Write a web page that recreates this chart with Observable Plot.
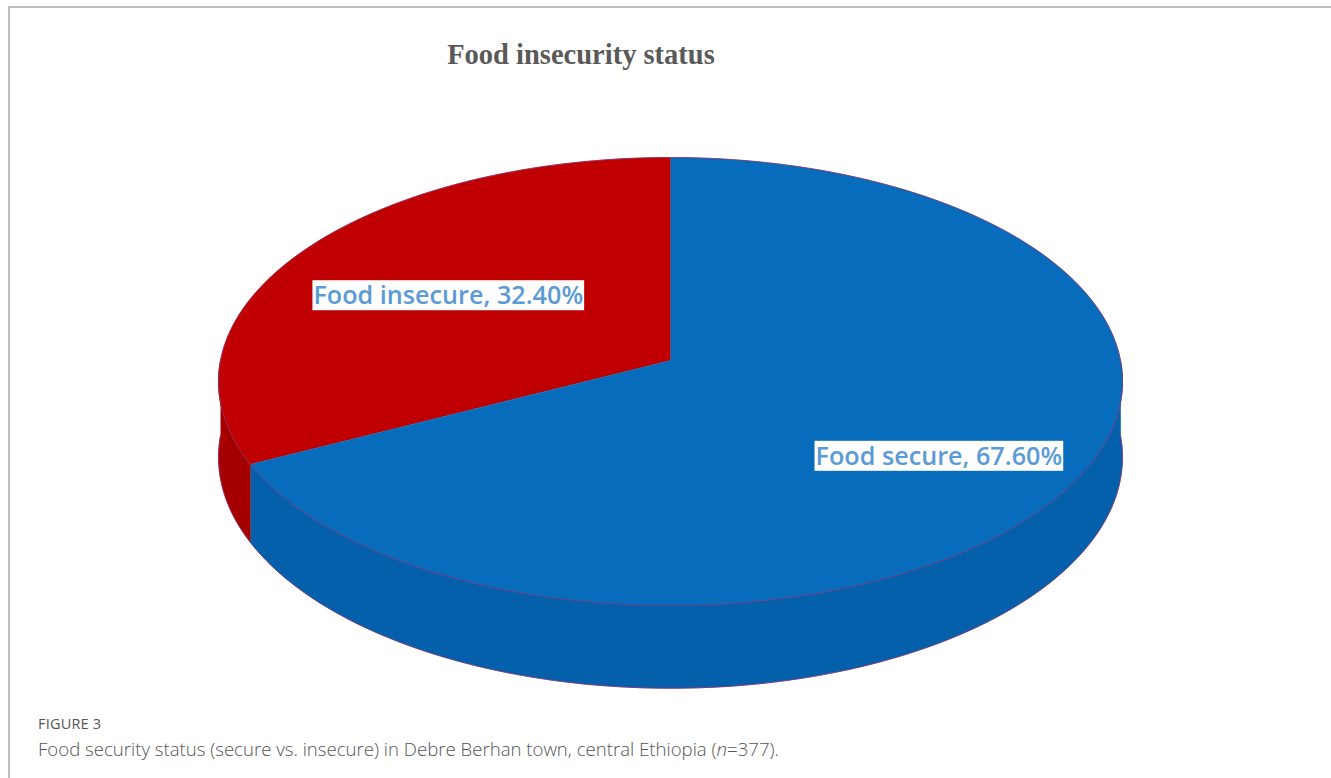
<!DOCTYPE html>
<html><head><meta charset="utf-8">
<script src="https://cdn.jsdelivr.net/npm/d3@7"></script>
<script src="https://cdn.jsdelivr.net/npm/@observablehq/plot@0.6"></script>
<style>
body{margin:0;background:#fff;width:1331px;height:778px;overflow:hidden;position:relative;font-family:"Open Sans",sans-serif}
#frame{position:absolute;left:8px;top:6px;right:-4px;bottom:-4px;border-left:2px solid #bdbdbd;border-top:2px solid #bdbdbd}
#title{position:absolute;left:0;width:1162px;top:39px;text-align:center;font:bold 28.5px "Liberation Serif",serif;color:#595959;white-space:nowrap}
#chart{position:absolute;left:0;top:100px}
#fig{position:absolute;left:38px;top:714px;font:14.5px "Open Sans",sans-serif;color:#555;letter-spacing:0.2px}
#cap{position:absolute;left:38px;top:736px;font:300 18.6px "Open Sans",sans-serif;color:#555;white-space:nowrap}
</style>
</head><body>
<div id="frame"></div>
<div id="title">Food insecurity status</div>
<div id="chart"></div>
<div id="fig">FIGURE 3</div>
<div id="cap">Food security status (secure vs. insecure) in Debre Berhan town, central Ethiopia (<i>n</i>=377).</div>
<script>
// ---- data ----
const categories = ["Food insecure", "Food secure"];
const values = [32.4, 67.6];

// ---- styles ----
const topColors = ["#c00000", "#076cbb"];
const sideColors = ["#a40000", "#0560ac"];
const labelColor = "#5b9bd5";
const labelSize = 25.2;

// ---- 3D pie geometry (perspective) ----
const CX = 670, CY = 360, RX = 450, RY = 222, P = 0.0938, DEPTH = 75;
function proj(theta, r = 1, drop = 0) {
  const u = -Math.sin(theta) * r, v = -Math.cos(theta) * r;
  const s = 1 / (1 - P * v);
  return [CX + RX * u * s, CY + RY * v * s + drop * DEPTH * s];
}
const total = d3.sum(values);
let acc = 0;
const slices = categories.map((c, i) => {
  const a0 = acc / total * 2 * Math.PI;
  acc += values[i];
  const a1 = acc / total * 2 * Math.PI;
  return {cat: c, value: values[i], a0, a1, i};
});
const N = 240;
function arc(a0, a1, r = 1, drop = 0) {
  const n = Math.max(2, Math.ceil(N * (a1 - a0) / (2 * Math.PI)));
  return d3.range(n + 1).map(k => proj(a0 + (a1 - a0) * k / n, r, drop));
}
const rows = [];
// sides
slices.forEach(sl => {
  const lo = Math.max(sl.a0, Math.PI / 2), hi = Math.min(sl.a1, 3 * Math.PI / 2);
  if (hi > lo) {
    const pts = arc(lo, hi, 1, 0).concat(arc(lo, hi, 1, 1).reverse());
    pts.forEach(([x, y]) => rows.push({key: "side" + sl.i, x, y, fill: sideColors[sl.i]}));
  }
});
// tops
slices.forEach(sl => {
  const pts = [proj(0, 0)].concat(arc(sl.a0, sl.a1));
  pts.forEach(([x, y]) => rows.push({key: "top" + sl.i, x, y, fill: topColors[sl.i]}));
});
// outlines
const outline = arc(0, 2 * Math.PI).map(([x, y]) => ({key: "o1", x, y}))
  .concat(arc(Math.PI / 2, 3 * Math.PI / 2, 1, 1).map(([x, y]) => ({key: "o2", x, y})));

// labels
const FX = 0.639, FY = 0.687;
const labels = slices.map(sl => {
  const m = (sl.a0 + sl.a1) / 2;
  const u = -Math.sin(m), v = -Math.cos(m), s = 1 / (1 - P * v);
  return {text: `${sl.cat}, ${sl.value.toFixed(2)}%`, x: CX + RX * u * s * FX, y: CY + RY * v * s * FY};
});

const chart = Plot.plot({
  width: 1331, height: 600, margin: 0,
  x: {domain: [0, 1331], range: [0, 1331], axis: null},
  y: {domain: [100, 700], range: [0, 600], axis: null},
  color: {type: "identity"},
  marks: [
    Plot.line(rows, {x: "x", y: "y", z: "key", fill: "fill", stroke: "fill", strokeWidth: 0.6}),
    Plot.line(outline, {x: "x", y: "y", z: "key", stroke: "#8a3070", strokeWidth: 1, strokeOpacity: 0.75}),
    Plot.text(labels, {x: "x", y: "y", text: "text", dx: 11, dy: 12, fill: labelColor, fontSize: labelSize, fontWeight: 600, fontFamily: "Open Sans"})
  ]
});
document.getElementById("chart").append(chart);
chart.querySelectorAll('g[aria-label="text"] text').forEach(t => {
  const b = t.getBBox();
  const h = 30, cy = b.y + b.height / 2;
  const r = document.createElementNS("http://www.w3.org/2000/svg", "rect");
  r.setAttribute("x", b.x - 1); r.setAttribute("y", cy - h / 2 + 1);
  r.setAttribute("width", b.width + 2); r.setAttribute("height", h);
  r.setAttribute("fill", "#fff");
  if (t.getAttribute("transform")) r.setAttribute("transform", t.getAttribute("transform"));
  t.parentNode.insertBefore(r, t);
});
</script>
</body></html>
